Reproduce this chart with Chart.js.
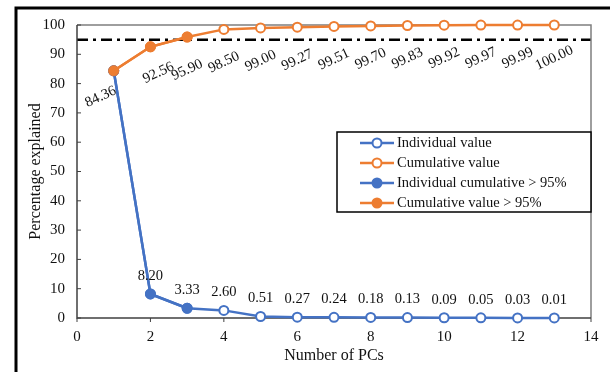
<!DOCTYPE html>
<html lang="en">
<head>
<meta charset="UTF-8">
<title>Percentage explained by PCs</title>
<script src="https://cdn.jsdelivr.net/npm/chart.js@4.4.1/dist/chart.umd.min.js"></script>
<style>
    body { margin: 0; background: #fff; }
    #wrap { width: 610px; height: 372px; position: relative; }
</style>
</head>
<body>
<div id="wrap"><canvas id="pcaChart" width="610" height="372"></canvas></div>
<script>
    // explained variance per principal component (%)
    const pcs = [1, 2, 3, 4, 5, 6, 7, 8, 9, 10, 11, 12, 13];
    const individual = [84.36, 8.20, 3.33, 2.60, 0.51, 0.27, 0.24, 0.18, 0.13, 0.09, 0.05, 0.03, 0.01];
    const cumulative = [84.36, 92.56, 95.90, 98.50, 99.00, 99.27, 99.51, 99.70, 99.83, 99.92, 99.97, 99.99, 100.00];
    const threshold = 95;
    const seriesNames = ['Individual value', 'Cumulative value', 'Individual cumulative > 95%', 'Cumulative value > 95%'];

    const BLUE = '#4472c4';
    const ORANGE = '#ed7d31';
    const SERIF = "'Liberation Serif', 'Times New Roman', serif";

    // components needed to pass the threshold get filled markers
    const cutIdx = cumulative.findIndex(v => v >= threshold);
    const pts = arr => pcs.map((x, i) => ({ x: x, y: arr[i] }));
    const upToCut = arr => pcs.map((x, i) => ({ x: x, y: i <= cutIdx ? arr[i] : null }));

    const openStyle = color => ({
        borderColor: color, borderWidth: 2.5,
        pointBackgroundColor: '#fff', pointBorderColor: color,
        pointBorderWidth: 2, pointRadius: 4.5,
        showLine: true, clip: false, tension: 0
    });
    const filledStyle = color => ({
        borderColor: color, borderWidth: 2.5,
        pointBackgroundColor: color, pointBorderColor: color,
        pointBorderWidth: 1, pointRadius: 5,
        showLine: true, clip: false, tension: 0, spanGaps: false
    });

    const frame = {
        id: 'frame',
        beforeDatasetsDraw(chart) {
            const { ctx, chartArea: a, scales: { y } } = chart;
            ctx.save();
            // threshold line
            const ty = y.getPixelForValue(threshold);
            ctx.strokeStyle = '#000';
            ctx.lineWidth = 2.5;
            ctx.setLineDash([11, 5, 3, 5]);
            ctx.beginPath();
            ctx.moveTo(a.left, ty);
            ctx.lineTo(a.right, ty);
            ctx.stroke();
            ctx.setLineDash([]);
            // plot box
            ctx.lineWidth = 1.5;
            ctx.strokeStyle = '#7f7f7f';
            ctx.beginPath();
            ctx.moveTo(a.left, a.top);
            ctx.lineTo(a.right, a.top);
            ctx.lineTo(a.right, a.bottom);
            ctx.stroke();
            ctx.strokeStyle = '#404040';
            ctx.beginPath();
            ctx.moveTo(a.left, a.top);
            ctx.lineTo(a.left, a.bottom);
            ctx.lineTo(a.right, a.bottom);
            ctx.stroke();
            // tick marks: inward on y, outward on x
            ctx.lineWidth = 1;
            chart.scales.y.ticks.forEach(t => {
                const py = chart.scales.y.getPixelForValue(t.value);
                ctx.beginPath();
                ctx.moveTo(a.left, py);
                ctx.lineTo(a.left + 4, py);
                ctx.stroke();
            });
            chart.scales.x.ticks.forEach(t => {
                const px = chart.scales.x.getPixelForValue(t.value);
                ctx.beginPath();
                ctx.moveTo(px, a.bottom);
                ctx.lineTo(px, a.bottom + 4);
                ctx.stroke();
            });
            // outer figure frame
            ctx.strokeStyle = '#000';
            ctx.lineWidth = 3;
            ctx.beginPath();
            ctx.moveTo(16, chart.height);
            ctx.lineTo(16, 8);
            ctx.lineTo(chart.width, 8);
            ctx.stroke();
            ctx.restore();
        },
        afterDatasetsDraw(chart) {
            const { ctx, scales: { x, y } } = chart;
            ctx.save();
            ctx.fillStyle = '#111';
            ctx.font = '14.5px ' + SERIF;
            ctx.textAlign = 'center';
            ctx.textBaseline = 'middle';
            // individual values above the markers
            individual.forEach((v, i) => {
                if (i === 0) return; // shares the point with the cumulative label
                ctx.fillText(v.toFixed(2), x.getPixelForValue(pcs[i]), y.getPixelForValue(v) - 18);
            });
            // cumulative values, slanted, under the curve
            cumulative.forEach((v, i) => {
                let px = x.getPixelForValue(pcs[i]);
                let py = y.getPixelForValue(v) + 33;
                if (i === 0) { px -= 13; py -= 7; }
                else if (i === 1) { px += 8; py -= 7; }
                ctx.save();
                ctx.translate(px, py);
                ctx.rotate(-25 * Math.PI / 180);
                ctx.fillText(v.toFixed(2), 0, 0);
                ctx.restore();
            });
            ctx.restore();
        },
        afterDraw(chart) {
            const { ctx, chartArea: a } = chart;
            const box = { left: 337, top: 132, right: a.right, bottom: 212 };
            ctx.save();
            ctx.fillStyle = '#fff';
            ctx.fillRect(box.left, box.top, box.right - box.left, box.bottom - box.top);
            ctx.strokeStyle = '#000';
            ctx.lineWidth = 1.5;
            ctx.strokeRect(box.left, box.top, box.right - box.left, box.bottom - box.top);
            ctx.font = '14.5px ' + SERIF;
            ctx.textBaseline = 'middle';
            ctx.textAlign = 'left';
            chart.data.datasets.forEach((ds, i) => {
                const ry = box.top + 11 + i * 20;
                ctx.strokeStyle = ds.borderColor;
                ctx.lineWidth = 2.5;
                ctx.beginPath();
                ctx.moveTo(360, ry);
                ctx.lineTo(394, ry);
                ctx.stroke();
                ctx.beginPath();
                ctx.arc(377, ry, 4.5, 0, Math.PI * 2);
                ctx.fillStyle = ds.pointBackgroundColor;
                ctx.fill();
                ctx.lineWidth = 2;
                ctx.stroke();
                ctx.fillStyle = '#111';
                ctx.fillText(ds.label, 397, ry);
            });
            ctx.restore();
        }
    };

    new Chart(document.getElementById('pcaChart').getContext('2d'), {
        type: 'scatter',
        data: {
            datasets: [
                Object.assign({ label: seriesNames[0], data: pts(individual), order: 3 }, openStyle(BLUE)),
                Object.assign({ label: seriesNames[1], data: pts(cumulative), order: 2 }, openStyle(ORANGE)),
                Object.assign({ label: seriesNames[2], data: upToCut(individual), order: 1 }, filledStyle(BLUE)),
                Object.assign({ label: seriesNames[3], data: upToCut(cumulative), order: 0 }, filledStyle(ORANGE))
            ]
        },
        options: {
            responsive: false,
            devicePixelRatio: 1,
            animation: false,
            layout: { padding: { left: 0, top: 25, right: 19, bottom: 0 } },
            plugins: {
                legend: { display: false },
                tooltip: { enabled: false }
            },
            scales: {
                x: {
                    type: 'linear',
                    min: 0, max: 14,
                    grid: { display: false, drawTicks: false },
                    border: { display: false },
                    ticks: { stepSize: 2, padding: 10, color: '#111', font: { family: SERIF, size: 15 } },
                    title: {
                        display: true, text: 'Number of PCs', color: '#111',
                        font: { family: SERIF, size: 16 }, padding: { top: 0, bottom: 7 }
                    },
                    afterFit(scale) { scale.height = 54; }
                },
                y: {
                    min: 0, max: 100,
                    grid: { display: false, drawTicks: false },
                    border: { display: false },
                    ticks: { stepSize: 10, padding: 12, color: '#111', font: { family: SERIF, size: 15 } },
                    title: {
                        display: true, text: 'Percentage explained', color: '#111',
                        font: { family: SERIF, size: 16 }, padding: { top: 26, bottom: 0 }
                    },
                    afterFit(scale) { scale.width = 77; }
                }
            }
        },
        plugins: [frame]
    });
</script>
</body>
</html>
